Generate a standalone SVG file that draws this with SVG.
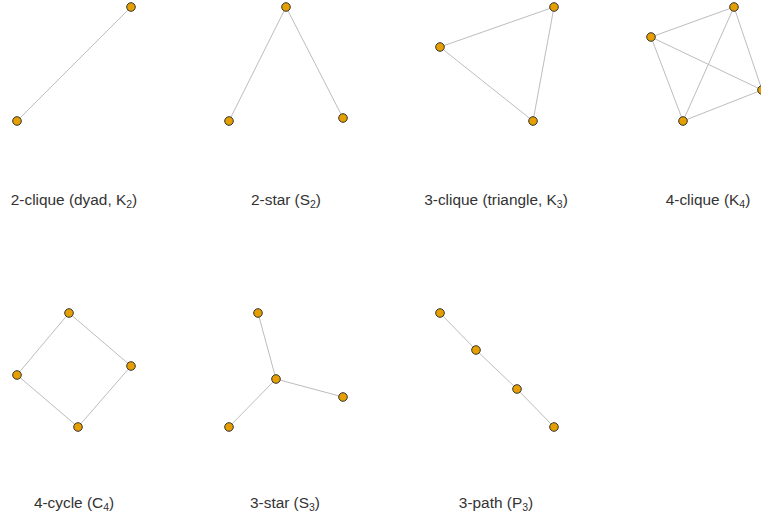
<svg xmlns="http://www.w3.org/2000/svg" width="761" height="521" viewBox="0 0 761 521">
<style>
.e{stroke:#bdbdbd;stroke-width:1;fill:none}
.n{fill:#e69f00;stroke:#333;stroke-width:1}
.t{font-family:"Liberation Sans",Arial,sans-serif;font-size:15.4px;fill:#333;text-anchor:middle}
.s{font-size:10.5px}
</style>
<rect width="761" height="521" fill="#fff"/>
<g id="connectors">
<line class="e" x1="17" y1="121" x2="131" y2="7"/>
<line class="e" x1="286" y1="7" x2="229" y2="121"/>
<line class="e" x1="286" y1="7" x2="343" y2="118"/>
<line class="e" x1="440" y1="47" x2="554" y2="7"/>
<line class="e" x1="440" y1="47" x2="533" y2="121"/>
<line class="e" x1="554" y1="7" x2="533" y2="121"/>
<line class="e" x1="651" y1="37" x2="734" y2="7"/>
<line class="e" x1="651" y1="37" x2="683" y2="121"/>
<line class="e" x1="651" y1="37" x2="762" y2="90"/>
<line class="e" x1="734" y1="7" x2="683" y2="121"/>
<line class="e" x1="734" y1="7" x2="762" y2="90"/>
<line class="e" x1="683" y1="121" x2="762" y2="90"/>
<line class="e" x1="69" y1="313" x2="17" y2="375"/>
<line class="e" x1="69" y1="313" x2="131" y2="366"/>
<line class="e" x1="17" y1="375" x2="78" y2="427"/>
<line class="e" x1="131" y1="366" x2="78" y2="427"/>
<line class="e" x1="276" y1="379" x2="258" y2="313"/>
<line class="e" x1="276" y1="379" x2="343" y2="397"/>
<line class="e" x1="276" y1="379" x2="229" y2="427"/>
<line class="e" x1="440" y1="313" x2="476" y2="350"/>
<line class="e" x1="476" y1="350" x2="517" y2="389"/>
<line class="e" x1="517" y1="389" x2="554" y2="427"/>
</g>
<g id="k2">
<circle class="n" cx="17" cy="121" r="4.3"/>
<circle class="n" cx="131" cy="7" r="4.3"/>
<text class="t" x="74" y="205">2-clique (dyad, K<tspan class="s" dy="3">2</tspan><tspan dy="-3">)</tspan></text>
</g>
<g id="s2">
<circle class="n" cx="286" cy="7" r="4.3"/>
<circle class="n" cx="229" cy="121" r="4.3"/>
<circle class="n" cx="343" cy="118" r="4.3"/>
<text class="t" x="286" y="205">2-star (S<tspan class="s" dy="3">2</tspan><tspan dy="-3">)</tspan></text>
</g>
<g id="k3">
<circle class="n" cx="440" cy="47" r="4.3"/>
<circle class="n" cx="554" cy="7" r="4.3"/>
<circle class="n" cx="533" cy="121" r="4.3"/>
<text class="t" x="496" y="205">3-clique (triangle, K<tspan class="s" dy="3">3</tspan><tspan dy="-3">)</tspan></text>
</g>
<g id="k4">
<circle class="n" cx="651" cy="37" r="4.3"/>
<circle class="n" cx="734" cy="7" r="4.3"/>
<circle class="n" cx="683" cy="121" r="4.3"/>
<circle class="n" cx="762" cy="90" r="4.3"/>
<text class="t" x="708" y="205">4-clique (K<tspan class="s" dy="3">4</tspan><tspan dy="-3">)</tspan></text>
</g>
<g id="c4">
<circle class="n" cx="69" cy="313" r="4.3"/>
<circle class="n" cx="17" cy="375" r="4.3"/>
<circle class="n" cx="131" cy="366" r="4.3"/>
<circle class="n" cx="78" cy="427" r="4.3"/>
<text class="t" x="74" y="508">4-cycle (C<tspan class="s" dy="3">4</tspan><tspan dy="-3">)</tspan></text>
</g>
<g id="s3">
<circle class="n" cx="258" cy="313" r="4.3"/>
<circle class="n" cx="276" cy="379" r="4.3"/>
<circle class="n" cx="343" cy="397" r="4.3"/>
<circle class="n" cx="229" cy="427" r="4.3"/>
<text class="t" x="285" y="508">3-star (S<tspan class="s" dy="3">3</tspan><tspan dy="-3">)</tspan></text>
</g>
<g id="p3">
<circle class="n" cx="440" cy="313" r="4.3"/>
<circle class="n" cx="476" cy="350" r="4.3"/>
<circle class="n" cx="517" cy="389" r="4.3"/>
<circle class="n" cx="554" cy="427" r="4.3"/>
<text class="t" x="496" y="508">3-path (P<tspan class="s" dy="3">3</tspan><tspan dy="-3">)</tspan></text>
</g>
</svg>
